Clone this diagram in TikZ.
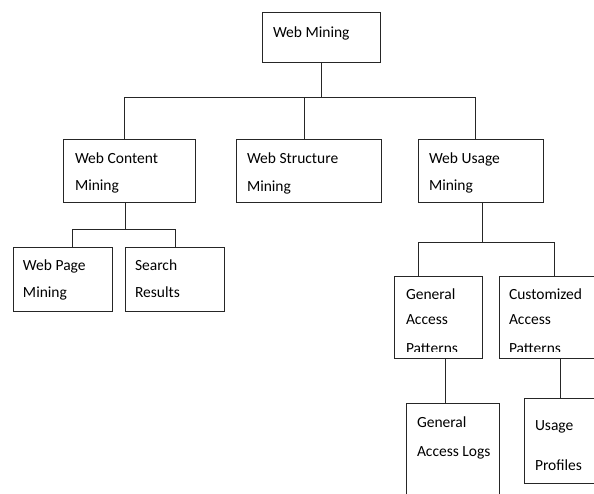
\documentclass[tikz,border=0pt]{standalone}
\usepackage{fontspec}
\setmainfont{Carlito}
\begin{document}
\begin{tikzpicture}[x=1pt,y=-1pt,
  box/.style={draw=black!85, line width=0.9pt, inner sep=0pt, outer sep=0pt},
  lbl/.style={anchor=base west, inner sep=0pt, outer sep=0pt, font=\fontsize{15.5}{18}\selectfont},
  conn/.style={draw=black!85, line width=0.9pt}]
\clip (0,0) rectangle (594,493);
\fill[white] (0,0) rectangle (594,493);
% boxes
\node[box, minimum width=118pt, minimum height=50pt] (wm) at (321,37) {};
\node[box, minimum width=132pt, minimum height=63pt] (wcm) at (129,170.5) {};
\node[box, minimum width=145pt, minimum height=63pt] (wsm) at (308.5,170.5) {};
\node[box, minimum width=125pt, minimum height=63pt] (wum) at (480.5,170.5) {};
\node[box, minimum width=99pt, minimum height=64pt] (wpm) at (62.5,279) {};
\node[box, minimum width=99pt, minimum height=64pt] (sr) at (174.5,279) {};
\node[box, minimum width=88pt, minimum height=82pt] (gap) at (438,317) {};
\node[box, minimum width=110pt, minimum height=82pt] (cap) at (554,317) {};
\node[box, minimum width=93pt, minimum height=110pt] (gal) at (452.5,458) {};
\node[box, minimum width=76pt, minimum height=85pt] (up) at (562,440.5) {};
% texts
\node[lbl] (wmT) at (273,37) {Web Mining};
\node[lbl] (wcmT1) at (75,163) {Web Content};
\node[lbl] (wcmT2) at (75,190) {Mining};
\node[lbl] (wsmT1) at (247,163) {Web Structure};
\node[lbl] (wsmT2) at (247,191) {Mining};
\node[lbl] (wumT1) at (429,163) {Web Usage};
\node[lbl] (wumT2) at (429,190) {Mining};
\node[lbl] (wpmT1) at (23,270) {Web Page};
\node[lbl] (wpmT2) at (23,297) {Mining};
\node[lbl] (srT1) at (135,270) {Search};
\node[lbl] (srT2) at (135,297) {Results};
\begin{scope}
\clip (390,270) rectangle (600,351);
\node[lbl] (gapT1) at (406,299) {General};
\node[lbl] (gapT2) at (406,324) {Access};
\node[lbl] (gapT3) at (406,353) {Patterns};
\node[lbl] (capT1) at (509,299) {Customized};
\node[lbl] (capT2) at (509,324) {Access};
\node[lbl] (capT3) at (509,353) {Patterns};
\end{scope}
\node[lbl] (galT1) at (417,427) {General};
\node[lbl] (galT2) at (417,456) {Access Logs};
\node[lbl] (upT1) at (535,430) {Usage};
\node[lbl] (upT2) at (535,470) {Profiles};
% junctions
\coordinate (t1) at (124,97);
\coordinate (t2) at (475,97);
\coordinate (t3) at (304,97);
\coordinate (c1) at (72,229);
\coordinate (c2) at (175,229);
\coordinate (c0) at (125,229);
\coordinate (u1) at (418,242);
\coordinate (u2) at (554,242);
\coordinate (u0) at (482,242);
\coordinate (g0) at (445,300);
\coordinate (p0) at (560,300);
% connectors
\path[conn] (wm.south) -- (wm.south |- t1);
\path[conn] (wcm.north -| t1) -- (t1) -- (t2) -- (wum.north -| t2);
\path[conn] (t3) -- (wsm.north -| t3);
\path[conn] (wcm.south -| c0) -- (c0);
\path[conn] (wpm.north -| c1) -- (c1) -- (c2) -- (sr.north -| c2);
\path[conn] (wum.south -| u0) -- (u0);
\path[conn] (gap.north -| u1) -- (u1) -- (u2) -- (cap.north -| u2);
\path[conn] (gap.south -| g0) -- (gal.north -| g0);
\path[conn] (cap.south -| p0) -- (up.north -| p0);
\end{tikzpicture}
\end{document}
